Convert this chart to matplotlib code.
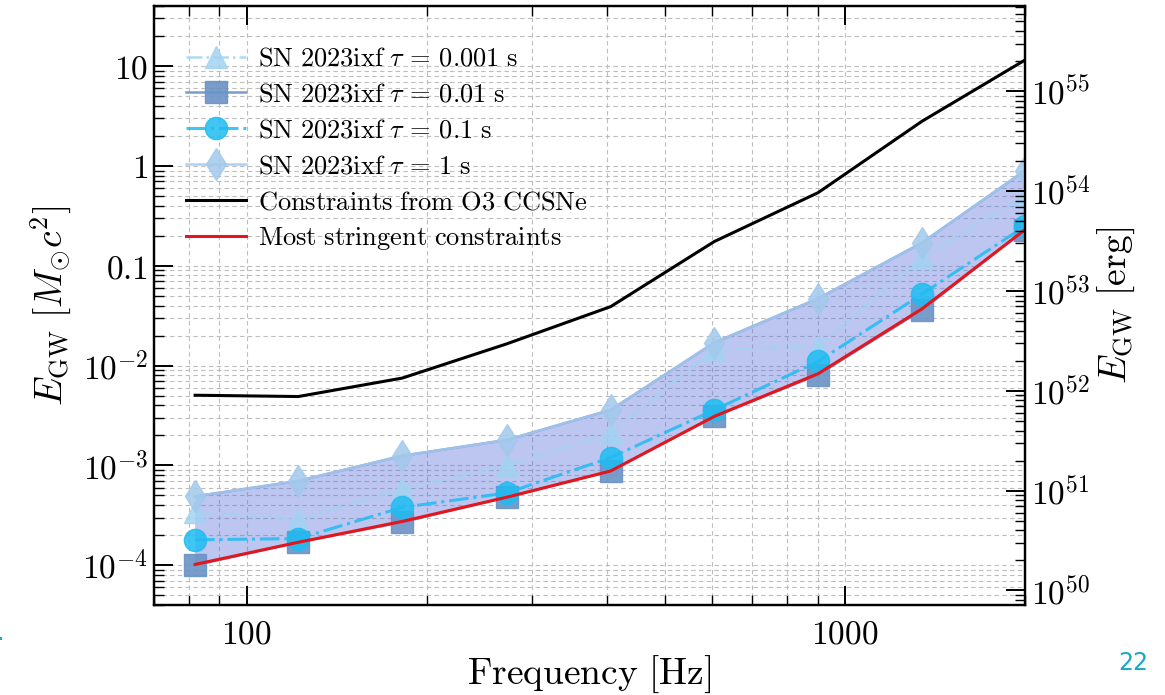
import matplotlib
matplotlib.use("Agg")
import matplotlib.pyplot as plt
from matplotlib.ticker import FixedLocator, FixedFormatter, LogLocator, NullFormatter
from matplotlib.patches import Rectangle
import numpy as np

plt.rcParams['mathtext.fontset'] = 'cm'
plt.rcParams['font.family'] = ['DejaVu Serif']

# ---------------- data ----------------
freq = [82, 122, 182, 272, 406, 605, 902, 1345, 2000]
e_tau_0001 = [3.4e-4, 2.9e-4, 5.8e-4, 1.0e-3, 2.1e-3, 1.45e-2, 1.55e-2, 0.12, 0.5]
e_tau_001 = [1.0e-4, 1.7e-4, 2.7e-4, 4.8e-4, 8.8e-4, 3.1e-3, 8.1e-3, 0.036, 0.23]
e_tau_01 = [1.8e-4, 1.85e-4, 3.8e-4, 5.3e-4, 1.2e-3, 3.6e-3, 0.011, 0.052, 0.25]
e_tau_1 = [4.9e-4, 7.0e-4, 1.25e-3, 1.8e-3, 3.6e-3, 0.017, 0.047, 0.17, 0.9]
e_o3 = [5.05e-3, 4.9e-3, 7.5e-3, 0.0165, 0.039, 0.175, 0.54, 2.8, 11.5]
e_best = [1.02e-4, 1.7e-4, 2.75e-4, 4.8e-4, 8.8e-4, 3.1e-3, 8.3e-3, 0.037, 0.23]

series_labels = [r'$\mathrm{SN\ 2023ixf}\ \tau\, =\, 0.001\ \mathrm{s}$',
                 r'$\mathrm{SN\ 2023ixf}\ \tau\, =\, 0.01\ \mathrm{s}$',
                 r'$\mathrm{SN\ 2023ixf}\ \tau\, =\, 0.1\ \mathrm{s}$',
                 r'$\mathrm{SN\ 2023ixf}\ \tau\, =\, 1\ \mathrm{s}$',
                 r'$\mathrm{Constraints\ from\ O3\ CCSNe}$',
                 r'$\mathrm{Most\ stringent\ constraints}$']

xtick_vals = [100, 1000]
xtick_labels = [r'$100$', r'$1000$']
ytick_vals = [1e-4, 1e-3, 1e-2, 0.1, 1, 10]
ytick_labels = [r'$10^{-4}$', r'$10^{-3}$', r'$10^{-2}$', r'$0.1$', r'$1$', r'$10$']
erg_tick_vals = [1e50, 1e51, 1e52, 1e53, 1e54, 1e55]
erg_tick_labels = [r'$10^{50}$', r'$10^{51}$', r'$10^{52}$', r'$10^{53}$', r'$10^{54}$', r'$10^{55}$']
msun_c2_erg = 1.787e54

# ---------------- figure ----------------
fig = plt.figure(figsize=(11.65, 6.95), dpi=100)
ax = fig.add_axes([154/1165, 1-605/695, (1025-154)/1165, (605-6)/695])

xlim = (70, 2000)
ylim = (4.0e-5, 40)

ms = 16
c_tri = '#a3d3f2'
c_sq = '#6a93c6'
c_circ = '#1fbcf2'
c_dia = '#a2c9ec'

upper = np.max([e_tau_0001, e_tau_001, e_tau_01, e_tau_1], axis=0)
lower = np.min([e_tau_0001, e_tau_001, e_tau_01, e_tau_1], axis=0)
ax.fill_between(freq, lower, upper, facecolor='#5a6fdc', alpha=0.4, edgecolor='none', zorder=2)
ax.plot(freq, upper, color='#8598da', lw=1.8, zorder=2.1)

ax.plot(freq, e_tau_0001, ls='-.', color=c_tri, lw=1.8, marker='^', ms=ms, alpha=0.85,
        label=series_labels[0], zorder=3)
ax.plot(freq, e_tau_001, ls='-', color=c_sq, lw=1.8, marker='s', ms=ms*0.95, alpha=0.9,
        label=series_labels[1], zorder=3.2)
ax.plot(freq, e_tau_01, ls='-.', color=c_circ, lw=2.2, marker='o', ms=ms, alpha=0.85,
        label=series_labels[2], zorder=3.4)
ax.plot(freq, e_tau_1, ls='-', color=c_dia, lw=1.8, marker='d', ms=ms*1.05, alpha=0.85,
        label=series_labels[3], zorder=3.1)
ax.plot(freq, e_o3, color='black', lw=2.2, label=series_labels[4], zorder=4)
ax.plot(freq, e_best, color='#e3151d', lw=2.2, label=series_labels[5], zorder=4.1)

ax.set_xscale('log')
ax.set_yscale('log')
ax.set_xlim(*xlim)
ax.set_ylim(*ylim)

ax.xaxis.set_major_locator(FixedLocator(xtick_vals))
ax.xaxis.set_major_formatter(FixedFormatter(xtick_labels))
ax.xaxis.set_minor_locator(LogLocator(base=10, subs=np.arange(2, 10)))
ax.xaxis.set_minor_formatter(NullFormatter())
ax.yaxis.set_major_locator(FixedLocator(ytick_vals))
ax.yaxis.set_major_formatter(FixedFormatter(ytick_labels))
ax.yaxis.set_minor_locator(LogLocator(base=10, subs=np.arange(2, 10), numticks=30))
ax.yaxis.set_minor_formatter(NullFormatter())

ax.tick_params(which='major', direction='in', length=14, width=1.4, labelsize=24, top=True, right=False)
ax.tick_params(which='minor', direction='in', length=7, width=1.0, top=True, right=False)
ax.tick_params(axis='x', which='major', pad=10)
ax.tick_params(axis='y', which='major', pad=4)
for sp in ax.spines.values():
    sp.set_linewidth(1.6)

ax.grid(True, which='both', ls=(0, (4, 3)), color='#bdbdbd', lw=0.8, zorder=0)
ax.set_axisbelow(True)

ax.set_xlabel(r'$\mathrm{Frequency\ [Hz]}$', fontsize=27, labelpad=2)
ax.set_ylabel(r'$E_{\mathrm{GW}}\ [M_{\odot}c^2]$', fontsize=27, labelpad=6)

# right axis in erg
ax2 = ax.twinx()
ax2.set_yscale('log')
ax2.set_ylim(ylim[0]*msun_c2_erg, ylim[1]*msun_c2_erg)
ax2.yaxis.set_major_locator(FixedLocator(erg_tick_vals))
ax2.yaxis.set_major_formatter(FixedFormatter(erg_tick_labels))
ax2.yaxis.set_minor_locator(LogLocator(base=10, subs=np.arange(2, 10), numticks=30))
ax2.yaxis.set_minor_formatter(NullFormatter())
ax2.tick_params(which='major', direction='in', length=14, width=1.4, labelsize=24, pad=4)
ax2.tick_params(which='minor', direction='in', length=7, width=1.0)
ax2.set_ylabel(r'$E_{\mathrm{GW}}\ [\mathrm{erg}]$', fontsize=27, labelpad=4)
for sp in ax2.spines.values():
    sp.set_linewidth(1.6)

leg = ax.legend(loc='upper left', bbox_to_anchor=(0.018, 0.96), frameon=False, fontsize=19,
                handlelength=2.3, handletextpad=0.45, labelspacing=0.41, borderaxespad=0.2)

fig.text(1133/1165, 1-663/695, '22', color='#1ba6c9', fontsize=17, family='DejaVu Sans',
         ha='center', va='center')
fig.patches.append(Rectangle((0, 1-640/695), 2/1165, 3/695, transform=fig.transFigure,
                             facecolor='#1ba6c9', edgecolor='none'))

fig.savefig('out.png', dpi=100)
